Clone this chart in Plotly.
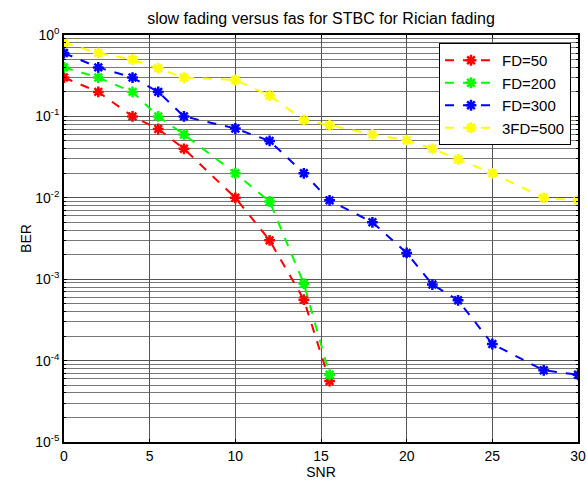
import plotly.graph_objects as go

snr_short = [0, 2, 4, 5.5, 7, 10, 12, 14, 15.5]
snr_long = [0, 2, 4, 5.5, 7, 10, 12, 14, 15.5, 18, 20, 21.5, 23, 25, 28, 30]

ber_fd50 = [0.3, 0.2, 0.1, 0.07, 0.04, 0.01, 0.003, 5.6e-4, 5.6e-5]
ber_fd200 = [0.4, 0.3, 0.2, 0.1, 0.06, 0.02, 0.009, 8.8e-4, 6.7e-5]
ber_fd300 = [0.6, 0.4, 0.3, 0.2, 0.1, 0.071, 0.05, 0.02, 0.0093, 0.005, 0.0021,
             8.6e-4, 5.5e-4, 1.6e-4, 7.6e-5, 6.7e-5]
ber_3fd500 = [0.8, 0.6, 0.5, 0.39, 0.3, 0.28, 0.18, 0.09, 0.078, 0.06, 0.051,
              0.04, 0.0296, 0.02, 0.01, 0.0093]

series = [
    ("FD=50", snr_short, ber_fd50, "#ff0000"),
    ("FD=200", snr_short, ber_fd200, "#00ff00"),
    ("FD=300", snr_long, ber_fd300, "#0000ff"),
    ("3FD=500", snr_long, ber_3fd500, "#ffff00"),
]

x_ticks = [0, 5, 10, 15, 20, 25, 30]
y_tickvals = [1, 0.1, 0.01, 0.001, 1e-4, 1e-5]
y_ticktext = ["10<sup>0</sup>", "10<sup>-1</sup>", "10<sup>-2</sup>",
              "10<sup>-3</sup>", "10<sup>-4</sup>", "10<sup>-5</sup>"]

fig = go.Figure()
for name, x, y, c in series:
    fig.add_trace(go.Scatter(
        x=x, y=y, name=name, mode="lines+markers",
        line=dict(color=c, width=2, dash="dash"),
        marker=dict(symbol="asterisk-open", size=9, color=c,
                    line=dict(color=c, width=2.5)),
    ))

font = "Liberation Sans, Arial, sans-serif"
fig.update_layout(
    width=587, height=482,
    margin=dict(l=64, r=9, t=35, b=40),
    paper_bgcolor="white", plot_bgcolor="white",
    font=dict(family=font, size=14, color="black"),
    title=dict(text="slow fading versus fas for STBC for Rician fading",
               x=(64 + 578) / 2 / 587, xanchor="center", y=1 - 18 / 482,
               yanchor="middle", font=dict(size=16, family=font)),
    showlegend=True,
    legend=dict(x=(439 - 64) / 514, y=(442 - 43) / 407, xanchor="left",
                yanchor="top",
                bordercolor="black", borderwidth=1, bgcolor="white",
                font=dict(size=15, family=font), tracegroupgap=0,
                itemwidth=52),
    xaxis=dict(range=[0, 30], tickvals=x_ticks, showline=True, mirror="ticks",
               linecolor="black", linewidth=1.5, ticks="inside", ticklen=3,
               tickcolor="black", showgrid=True, gridcolor="#555",
               gridwidth=0.8, zeroline=False, automargin=False,
               title=dict(text="SNR", font=dict(size=14), standoff=0),
               tickfont=dict(size=14)),
    yaxis=dict(type="log", range=[-5, 0], tickvals=y_tickvals,
               ticktext=y_ticktext, showline=True, mirror="ticks",
               linecolor="black", linewidth=1.5, ticks="inside", ticklen=3,
               tickcolor="black", showgrid=True, gridcolor="#555",
               gridwidth=0.8, zeroline=False, automargin=False,
               minor=dict(showgrid=True, gridcolor="#777", gridwidth=0.6,
                          ticks="inside", ticklen=2, tickcolor="black",
                          dtick="D1"),
               title=dict(text="BER", font=dict(size=14), standoff=0),
               tickfont=dict(size=14)),
)

fig.write_html("out.html")
